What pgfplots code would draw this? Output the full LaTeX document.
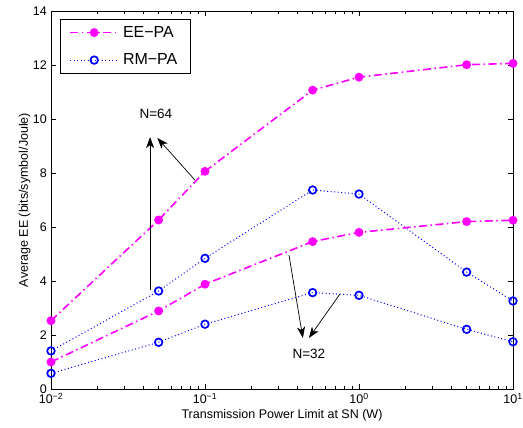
\documentclass[border=0pt]{standalone}
\usepackage{fontspec}
\setmainfont{Liberation Sans}
\usepackage{pgfplots}
\pgfplotsset{compat=1.18}
\usetikzlibrary{arrows.meta}
\definecolor{mag}{rgb}{1,0,1}
\definecolor{blu}{rgb}{0,0,1}
\begin{document}
\begin{tikzpicture}
\begin{semilogxaxis}[
  scale only axis,
  width=462pt, height=378pt,
  at={(0,0)}, anchor=south west,
  xmin=0.01, xmax=10, ymin=0, ymax=14,
  ytick={0,2,...,14},
  xtick={0.01,0.1,1,10},
  xticklabels={10\textsuperscript{−2},10\textsuperscript{−1},10\textsuperscript{0},10\textsuperscript{1}},
  /pgf/number format/assume math mode=true,
  tick label style={font=\fontsize{12.5}{14}\selectfont, inner sep=0pt},
  xticklabel style={yshift=-4pt},
  yticklabel style={xshift=-4pt},
  label style={font=\fontsize{12.5}{14}\selectfont},
  xlabel={Transmission Power Limit at SN (W)},
  ylabel={Average EE (bits/symbol/Joule)},
  xlabel style={yshift=-2pt},
  ylabel style={yshift=-1pt},
  tick align=inside,
  major tick length=5pt, minor tick length=3pt,
  axis line style={line width=0.8pt},
  every tick/.style={black, line width=0.5pt},
  legend style={at={(rel axis cs:0.0195,0.979)}, anchor=north west,
    font=\fontsize{16}{18}\selectfont, draw=black, line width=0.8pt,
    inner xsep=9pt, inner ysep=5pt, row sep=11pt,
    nodes={inner xsep=4pt}},
  legend cell align=left,
  legend image code/.code={\draw[mark repeat=2,mark phase=2] plot coordinates {(0pt,0pt) (24pt,0pt) (48pt,0pt)};},
]
\addplot[mag, line width=1.6pt, dash pattern=on 8pt off 3.5pt on 1.5pt off 3.5pt,
  mark=*, mark size=3.6pt, mark options={solid, fill=mag}]
  coordinates {(0.01,2.53) (0.05,6.26) (0.1,8.06) (0.5,11.07) (1,11.55) (5,12.01) (10,12.06)};
\addlegendentry{EE−PA\hspace{24pt}}
\addplot[blu, line width=1pt, dash pattern=on 1pt off 2.5pt,
  mark=o, mark size=3.8pt, mark options={solid, line width=1.7pt}]
  coordinates {(0.01,1.41) (0.05,3.63) (0.1,4.84) (0.5,7.37) (1,7.22) (5,4.33) (10,3.26)};
\addlegendentry{RM−PA}
\addplot[mag, line width=1.6pt, dash pattern=on 8pt off 3.5pt on 1.5pt off 3.5pt,
  mark=*, mark size=3.6pt, mark options={solid, fill=mag}, forget plot]
  coordinates {(0.01,1.0) (0.05,2.89) (0.1,3.88) (0.5,5.46) (1,5.80) (5,6.20) (10,6.25)};
\addplot[blu, line width=1pt, dash pattern=on 1pt off 2.5pt,
  mark=o, mark size=3.8pt, mark options={solid, line width=1.7pt}, forget plot]
  coordinates {(0.01,0.58) (0.05,1.73) (0.1,2.40) (0.5,3.57) (1,3.47) (5,2.21) (10,1.75)};
\draw[line width=0.7pt, -{Stealth[length=11pt,width=8pt,inset=3pt]}] (axis cs:0.044,3.67) -- (axis cs:0.044,9.33);
\draw[line width=0.7pt, -{Stealth[length=11pt,width=8pt,inset=3pt]}] (axis cs:0.086,7.74) -- (axis cs:0.049,9.3);
\node[font=\fontsize{13.5}{15}\selectfont] at (axis cs:0.048,10.2) {N=64};
\draw[line width=0.7pt, -{Stealth[length=11pt,width=8pt,inset=3pt]}] (axis cs:0.351,4.96) -- (axis cs:0.432,1.89);
\draw[line width=0.7pt, -{Stealth[length=11pt,width=8pt,inset=3pt]}] (axis cs:0.753,3.52) -- (axis cs:0.473,1.89);
\node[font=\fontsize{13.5}{15}\selectfont] at (axis cs:0.473,1.3) {N=32};
\end{semilogxaxis}
\pgfresetboundingbox
\path[use as bounding box] (-51pt,-39pt) rectangle (472pt,389pt);
\end{tikzpicture}
\end{document}
